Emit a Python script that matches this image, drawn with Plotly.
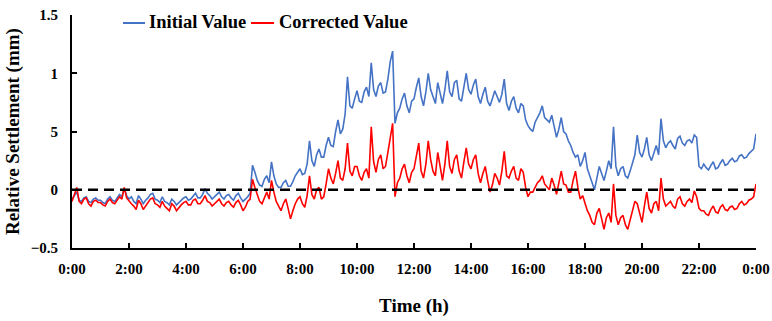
import numpy as np
import plotly.graph_objects as go

initial_value = [
    -0.08, -0.05, -0.02, -0.09, -0.10, -0.07, -0.06, -0.10, -0.11, -0.08, -0.07, -0.09,
    -0.09, -0.11, -0.12, -0.08, -0.06, -0.09, -0.10, -0.07, -0.04, -0.06, 0.01, -0.05,
    -0.08, -0.06, -0.10, -0.12, -0.05, -0.08, -0.12, -0.09, -0.07, -0.04, -0.03, -0.08,
    -0.09, -0.11, -0.06, -0.10, -0.11, -0.13, -0.08, -0.10, -0.13, -0.11, -0.09, -0.07,
    -0.06, -0.09, -0.08, -0.05, -0.03, -0.07, -0.07, -0.04, 0.01, -0.03, -0.05, -0.08,
    -0.06, -0.04, -0.02, -0.06, -0.08, -0.05, -0.04, -0.07, -0.09, -0.05, -0.03, -0.07,
    -0.10, -0.08, -0.06, -0.03, 0.21, 0.15, 0.08, 0.04, 0.03, 0.09, 0.12, 0.06,
    0.24, 0.12, 0.05, 0.02, 0.02, 0.06, 0.08, 0.03, 0.03, 0.07, 0.12, 0.15,
    0.18, 0.13, 0.14, 0.22, 0.42, 0.25, 0.20, 0.30, 0.35, 0.28, 0.28, 0.38,
    0.45, 0.38, 0.37, 0.50, 0.60, 0.48, 0.52, 0.65, 0.97, 0.72, 0.70, 0.78,
    0.85, 0.76, 0.75, 0.84, 0.88, 0.80, 1.09, 0.86, 0.80, 0.89, 0.92, 0.83,
    0.84, 0.95, 1.10, 1.19, 0.57, 0.66, 0.70, 0.78, 0.83, 0.72, 0.66, 0.76,
    0.78, 0.88, 0.96, 0.80, 0.72, 0.84, 1.00, 0.86, 0.80, 0.74, 0.92, 0.82,
    0.74, 0.86, 1.02, 0.84, 0.80, 0.92, 0.94, 0.78, 0.76, 0.88, 1.00, 0.86,
    0.82, 0.90, 0.95, 0.80, 0.74, 0.82, 0.88, 0.76, 0.72, 0.78, 0.85, 0.80,
    0.75, 0.82, 0.95, 0.74, 0.68, 0.76, 0.80, 0.70, 0.66, 0.74, 0.72, 0.60,
    0.55, 0.52, 0.50, 0.58, 0.62, 0.66, 0.72, 0.62, 0.60, 0.58, 0.64, 0.55,
    0.45, 0.52, 0.62, 0.50, 0.48, 0.42, 0.38, 0.32, 0.28, 0.30, 0.20, 0.25,
    0.32, 0.18, 0.12, 0.05, 0.00, 0.10, 0.20, 0.14, 0.08, 0.16, 0.25, 0.18,
    0.54, 0.20, 0.12, 0.18, 0.20, 0.12, 0.10, 0.16, 0.22, 0.30, 0.47, 0.32,
    0.28, 0.35, 0.45, 0.30, 0.25, 0.32, 0.38, 0.30, 0.61, 0.42, 0.36, 0.40,
    0.42, 0.38, 0.35, 0.44, 0.46, 0.40, 0.38, 0.42, 0.43, 0.40, 0.47, 0.45,
    0.20, 0.18, 0.22, 0.19, 0.17, 0.21, 0.24, 0.18, 0.19, 0.23, 0.26, 0.21,
    0.22, 0.25, 0.27, 0.24, 0.25, 0.29, 0.30, 0.27, 0.28, 0.31, 0.33, 0.35,
    0.48,
]
corrected_value = [
    -0.10, -0.04, 0.02, -0.10, -0.12, -0.08, -0.07, -0.12, -0.14, -0.10, -0.09, -0.11,
    -0.11, -0.13, -0.14, -0.10, -0.08, -0.11, -0.12, -0.09, -0.06, -0.08, 0.02, -0.07,
    -0.10, -0.12, -0.14, -0.17, -0.09, -0.12, -0.17, -0.14, -0.11, -0.08, -0.07, -0.12,
    -0.13, -0.15, -0.10, -0.14, -0.16, -0.18, -0.12, -0.14, -0.18, -0.15, -0.13, -0.11,
    -0.10, -0.13, -0.13, -0.09, -0.08, -0.12, -0.12, -0.09, -0.05, -0.10, -0.11, -0.14,
    -0.12, -0.10, -0.08, -0.12, -0.14, -0.11, -0.10, -0.13, -0.15, -0.11, -0.09, -0.13,
    -0.18, -0.15, -0.10, -0.08, 0.09, 0.02, -0.05, -0.10, -0.12, -0.06, -0.02, -0.08,
    0.08, -0.02, -0.10, -0.14, -0.18, -0.12, -0.08, -0.16, -0.25, -0.18, -0.12, -0.08,
    -0.06, -0.12, -0.15, -0.05, 0.12, -0.04, -0.08, 0.00, 0.02, -0.08, -0.06, 0.05,
    0.18, 0.10, 0.05, 0.14, 0.25, 0.10, 0.08, 0.18, 0.40, 0.16, 0.12, 0.20,
    0.20, 0.12, 0.08, 0.15, 0.18, 0.10, 0.54, 0.24, 0.15, 0.26, 0.30, 0.18,
    0.20, 0.32, 0.45, 0.57, -0.06, 0.06, 0.10, 0.18, 0.22, 0.12, 0.06, 0.15,
    0.18, 0.28, 0.40, 0.16, 0.10, 0.22, 0.42, 0.26, 0.16, 0.12, 0.32, 0.20,
    0.08, 0.22, 0.42, 0.20, 0.14, 0.26, 0.30, 0.16, 0.10, 0.24, 0.36, 0.22,
    0.18, 0.26, 0.30, 0.14, 0.06, 0.14, 0.20, 0.08, -0.02, 0.04, 0.14, 0.10,
    0.04, 0.16, 0.33, 0.12, 0.10, 0.16, 0.20, 0.10, 0.08, 0.18, 0.15, 0.02,
    -0.06, -0.02, -0.02, 0.02, 0.06, 0.08, 0.12, 0.05, 0.02, 0.00, 0.10, 0.04,
    -0.04, 0.06, 0.16, 0.05, 0.04, -0.02, -0.02, 0.08, 0.16, 0.02, -0.08, -0.05,
    -0.12, -0.18, -0.22, -0.28, -0.30, -0.20, -0.16, -0.26, -0.34, -0.24, -0.20, -0.28,
    0.05, -0.22, -0.30, -0.24, -0.22, -0.30, -0.34, -0.26, -0.18, -0.10, -0.12, -0.20,
    -0.28, -0.14, -0.02, -0.16, -0.20, -0.12, -0.10, -0.18, 0.10, -0.08, -0.14, -0.12,
    -0.10, -0.14, -0.16, -0.08, -0.06, -0.12, -0.14, -0.10, -0.08, -0.11, -0.01, -0.06,
    -0.16, -0.18, -0.18, -0.21, -0.22, -0.17, -0.14, -0.19, -0.20, -0.15, -0.13, -0.17,
    -0.18, -0.15, -0.14, -0.17, -0.16, -0.12, -0.10, -0.13, -0.12, -0.09, -0.08, -0.06,
    0.05,
]
time_hours = np.arange(len(initial_value)) / 12.0

x_tick_vals = list(range(0, 25, 2))
x_tick_text = ["0:00", "2:00", "4:00", "6:00", "8:00", "10:00", "12:00",
               "14:00", "16:00", "18:00", "20:00", "22:00", "0:00"]
y_tick_vals = [-0.5, 0, 0.5, 1, 1.5]
y_tick_text = ["\u22120.5", "0", "5", "1", "1.5"]
legend_names = ["Initial Value", "Corrected Value"]
colors = ["#4472C4", "#FF0000"]

FONT = "Liberation Serif"
W, H = 772, 321
ML, MR, MT, MB = 72, 16, 15, 73
PW, PH = W - ML - MR, H - MT - MB


def px_x(p):
    return (p - ML) / PW


def px_y(p):
    return (H - MB - p) / PH


fig = go.Figure()
for name, vals, col in zip(legend_names, [initial_value, corrected_value], colors):
    fig.add_trace(go.Scatter(
        x=time_hours, y=vals, mode="lines", name=name, showlegend=False,
        line=dict(color=col, width=1.6),
    ))

fig.add_shape(type="line", xref="x", yref="y", x0=0, x1=24, y0=0, y1=0,
              line=dict(color="black", width=2.5, dash="10px,6px"), layer="above")

# manual legend (short line samples + bold labels)
legend_layout = [(123, 145, 147), (251, 274, 277)]
for (l0, l1, tx), name, col in zip(legend_layout, legend_names, colors):
    fig.add_shape(type="line", xref="paper", yref="paper",
                  x0=px_x(l0), x1=px_x(l1), y0=px_y(23), y1=px_y(23),
                  line=dict(color=col, width=2))
    fig.add_annotation(xref="paper", yref="paper", x=px_x(tx), y=px_y(22),
                       xanchor="left", yanchor="middle", showarrow=False,
                       text="<b>%s</b>" % name,
                       font=dict(family=FONT, size=18.5, color="black"))

fig.update_layout(
    width=W, height=H,
    margin=dict(l=ML, r=MR, t=MT, b=MB, autoexpand=False),
    paper_bgcolor="white", plot_bgcolor="white",
    font=dict(family=FONT, size=15, color="black"),
    showlegend=False,
    xaxis=dict(
        range=[0, 24], tickvals=x_tick_vals, ticktext=x_tick_text,
        showgrid=False, zeroline=False, showline=True, linecolor="black", linewidth=2,
        ticks="inside", ticklen=5, tickwidth=1.5, tickcolor="black",
        ticklabelstandoff=6, ticklabeloverflow="allow",
        tickfont=dict(family=FONT, size=15, color="black", weight="bold"),
        title=dict(text="<b>Time (h)</b>", font=dict(family=FONT, size=19), standoff=23),
    ),
    yaxis=dict(
        range=[-0.5, 1.5], tickvals=y_tick_vals, ticktext=y_tick_text,
        showgrid=False, zeroline=False, showline=True, linecolor="black", linewidth=2,
        ticks="inside", ticklen=5, tickwidth=1.5, tickcolor="black",
        ticklabelstandoff=9,
        tickfont=dict(family=FONT, size=15, color="black", weight="bold"),
        title=dict(text="<b>Relative Settlement (mm)</b>", font=dict(family=FONT, size=19), standoff=6),
    ),
)

fig.write_html("out.html")
